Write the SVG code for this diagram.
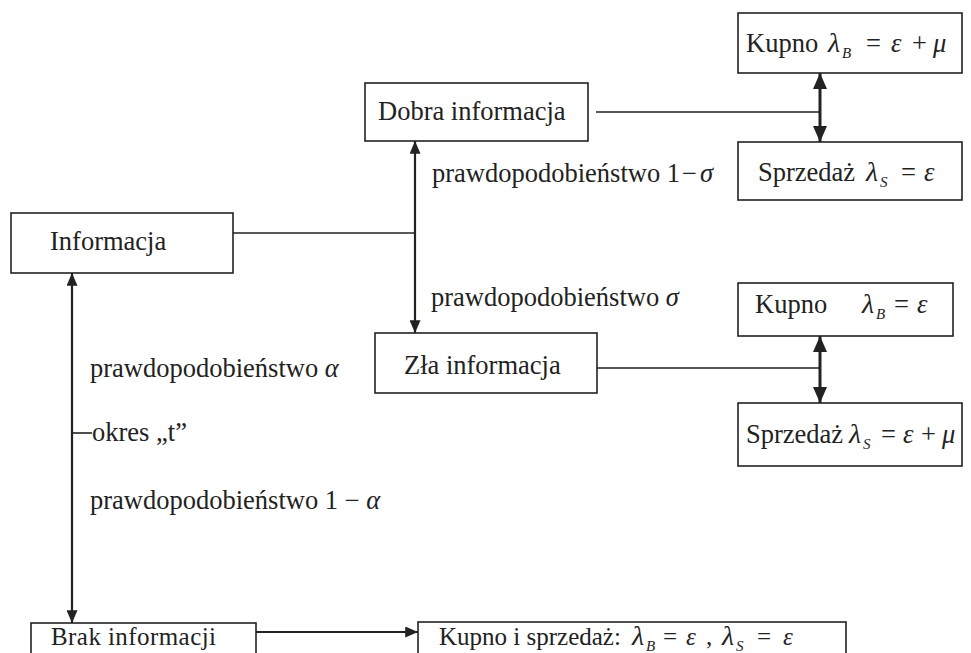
<svg xmlns="http://www.w3.org/2000/svg" width="971" height="653" viewBox="0 0 971 653">
<defs>
<style>
.box{fill:#fff;stroke:#222;stroke-width:1.6}
.t{font-family:"Liberation Serif","Times New Roman",serif;font-size:26.5px;fill:#222}
.b{font-size:25px}
.i{font-style:italic}
.l{font-style:italic;font-size:28px}
.sub{font-style:italic;font-size:15px}
.ln{stroke:#222;stroke-width:1.6;fill:none}
.ar{stroke:#222;stroke-width:2.2;fill:none}
.ar2{stroke:#222;stroke-width:3;fill:none}
</style>
<marker id="ah" viewBox="0 0 14 12" refX="14" refY="6" markerWidth="14" markerHeight="11" markerUnits="userSpaceOnUse" orient="auto-start-reverse"><path d="M0,0 L14,6 L0,12 z" fill="#222"/></marker>
<marker id="ah2" viewBox="0 0 16 14" refX="16" refY="7" markerWidth="16" markerHeight="14" markerUnits="userSpaceOnUse" orient="auto-start-reverse"><path d="M0,0 L16,7 L0,14 z" fill="#222"/></marker>
</defs>
<rect width="971" height="653" fill="#fff"/>
<g id="connectors">
<line class="ln" x1="233" y1="233" x2="415" y2="233"/>
<line class="ar" x1="415" y1="141" x2="415" y2="333" marker-start="url(#ah)" marker-end="url(#ah)"/>
<line class="ln" x1="596" y1="112" x2="820" y2="112"/>
<line class="ar2" x1="820" y1="73" x2="820" y2="142" marker-start="url(#ah2)" marker-end="url(#ah2)"/>
<line class="ln" x1="597" y1="368" x2="820" y2="368"/>
<line class="ar2" x1="820" y1="336" x2="820" y2="403" marker-start="url(#ah2)" marker-end="url(#ah2)"/>
<line class="ar" x1="72" y1="273" x2="72" y2="623" marker-start="url(#ah)" marker-end="url(#ah)"/>
<line class="ln" x1="72" y1="433" x2="92" y2="433"/>
<line class="ar" x1="256" y1="632" x2="418" y2="632" marker-end="url(#ah)"/>
</g>
<g id="kupno1"><rect class="box" x="738" y="13" width="224" height="60"/>
<text class="t" y="52"><tspan x="746">Kupno</tspan><tspan class="l" x="828">λ</tspan><tspan class="sub" x="842" y="58">B</tspan><tspan x="866" y="52">=</tspan><tspan class="i" x="891">ε</tspan><tspan x="912">+</tspan><tspan class="i" x="933">μ</tspan></text></g>
<g id="dobra"><rect class="box" x="365" y="83" width="223" height="58"/>
<text class="t" x="378" y="120">Dobra informacja</text></g>
<g id="sprzedaz1"><rect class="box" x="738" y="142" width="224" height="58"/>
<text class="t" y="181"><tspan x="758">Sprzedaż</tspan><tspan class="l" x="866">λ</tspan><tspan class="sub" x="880" y="187">S</tspan><tspan x="901" y="181">=</tspan><tspan class="i" x="924">ε</tspan></text></g>
<g id="lab1"><text class="t" x="432" y="182">prawdopodobieństwo 1<tspan dx="2">−</tspan><tspan class="i" dx="3">σ</tspan></text></g>
<g id="informacja"><rect class="box" x="11" y="213" width="222" height="60"/>
<text class="t" x="50" y="250">Informacja</text></g>
<g id="lab2"><text class="t" x="431" y="306">prawdopodobieństwo <tspan class="i">σ</tspan></text></g>
<g id="kupno2"><rect class="box" x="738" y="283" width="215" height="53"/>
<text class="t" y="313"><tspan x="755">Kupno</tspan><tspan class="l" x="862">λ</tspan><tspan class="sub" x="876" y="319">B</tspan><tspan x="894" y="313">=</tspan><tspan class="i" x="917">ε</tspan></text></g>
<g id="zla"><rect class="box" x="375" y="333" width="222" height="60"/>
<text class="t" x="404" y="374">Zła informacja</text></g>
<g id="sprzedaz2"><rect class="box" x="738" y="403" width="224" height="63"/>
<text class="t" y="443"><tspan x="746">Sprzedaż</tspan><tspan class="l" x="849">λ</tspan><tspan class="sub" x="863" y="449">S</tspan><tspan x="881" y="443">=</tspan><tspan class="i" x="903">ε</tspan><tspan x="921">+</tspan><tspan class="i" x="942">μ</tspan></text></g>
<g id="lab3"><text class="t" x="90" y="377">prawdopodobieństwo <tspan class="i">α</tspan></text></g>
<g id="lab4"><text class="t" x="92" y="441">okres „t”</text></g>
<g id="lab5"><text class="t" x="90" y="509">prawdopodobieństwo 1 − <tspan class="i">α</tspan></text></g>
<g id="brak"><rect class="box" x="31" y="623" width="225" height="60"/>
<text class="t b" x="51" y="645" textLength="165">Brak informacji</text></g>
<g id="kupnoisprzedaz"><rect class="box" x="418" y="622" width="428" height="60"/>
<text class="t b" y="645"><tspan x="439">Kupno i sprzedaż:</tspan><tspan class="l" x="632">λ</tspan><tspan class="sub" x="646" y="651">B</tspan><tspan x="663" y="645">=</tspan><tspan class="i" x="686">ε</tspan><tspan x="706">,</tspan><tspan class="l" x="722">λ</tspan><tspan class="sub" x="736" y="651">S</tspan><tspan x="757" y="645">=</tspan><tspan class="i" x="783">ε</tspan></text></g>
</svg>
